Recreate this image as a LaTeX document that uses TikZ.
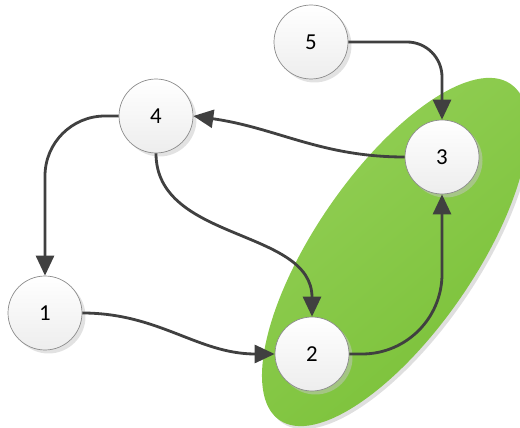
\documentclass[tikz,border=0pt]{standalone}
\usepackage{fontspec}
\setmainfont{Carlito}
\usetikzlibrary{arrows.meta}
\usetikzlibrary{shadows}
\definecolor{EdgeGray}{HTML}{404040}
\definecolor{RimGray}{HTML}{8C8C8C}
\definecolor{BlobLight}{HTML}{93CF56}
\definecolor{BlobDark}{HTML}{7AC138}
\newcommand{\vtxsize}{1.48cm}
\newcommand{\blobrx}{4.08cm}
\newcommand{\blobry}{1.6cm}
\newcommand{\blobtilt}{55.5}

\tikzset{
  vertex/.style={circle, minimum size=\vtxsize, inner sep=0pt,
    draw=RimGray, line width=0.4pt, top color=white, bottom color=gray!14,
    font=\fontsize{13}{15}\selectfont,
    drop shadow={shadow xshift=0.07cm, shadow yshift=-0.07cm,
      fill=gray!45, opacity=0.5}},
  flow/.style={-{Triangle[length=0.4cm,width=0.36cm]}, draw=EdgeGray,
    line width=1.6pt},
}

\begin{document}
\begin{tikzpicture}[x=0.02cm,y=-0.02cm]
    \useasboundingbox (0,0) rectangle (520,428);
    % group blob behind 2 and 3
    \fill[gray!25, rotate around={\blobtilt:(398,255)}]
      (398,255) ellipse [x radius=\blobrx, y radius=\blobry];
    \shade[top color=BlobLight, bottom color=BlobDark, shading angle=40,
      rotate around={\blobtilt:(395,252)}]
      (395,252) ellipse [x radius=\blobrx, y radius=\blobry];

    % vertices
    \node[vertex] (n5) at (311,42) {5};
    \node[vertex] (n4) at (156,116) {4};
    \node[vertex] (n3) at (442,157) {3};
    \node[vertex] (n1) at (45,313) {1};
    \node[vertex] (n2) at (312,354) {2};

    % edges
    \draw[flow, rounded corners=0.7cm] (n5.east) -| (n3.north);
    \draw[flow] (n3.west) to[out=180,in=-8] (n4.east);
    \draw[flow, rounded corners=1.2cm] (n4.west) -| (n1.north);
    \draw[flow] (n4.south) to[out=-90,in=90] (n2.north);
    \draw[flow] (n1.east) to[out=0,in=180] (n2.west);
    \draw[flow, rounded corners=1.6cm] (n2.east) -| (n3.south);
\end{tikzpicture}
\end{document}
